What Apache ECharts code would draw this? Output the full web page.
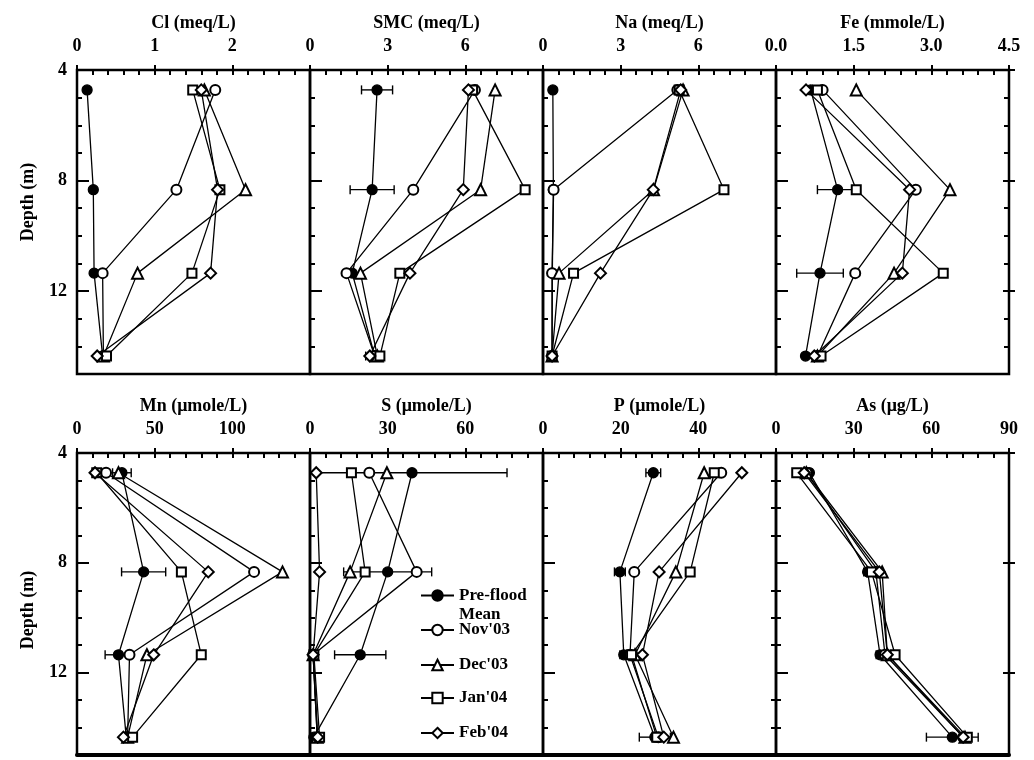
<!DOCTYPE html>
<html><head><meta charset="utf-8">
<script src="https://cdn.jsdelivr.net/npm/echarts@6/dist/echarts.min.js"></script>
<style>html,body{margin:0;padding:0;background:#fff}#c{width:1034px;height:760px}</style>
</head><body><div id="c"></div>
<script>
// ---------- DATA ----------
const depths = [4.72, 8.33, 11.35, 14.35];
const seriesNames = ['Pre-flood Mean', "Nov'03", "Dec'03", "Jan'04", "Feb'04"];
const panelTitles = ['Cl (meq/L)', 'SMC (meq/L)', 'Na (meq/L)', 'Fe (mmole/L)',
                     'Mn (μmole/L)', 'S (μmole/L)', 'P (μmole/L)', 'As (μg/L)'];
const axisMax = [3, 9, 9, 4.5, 150, 90, 60, 90];
const axisInterval = [1, 3, 3, 1.5, 50, 30, 20, 30];
const depthTickLabels = [4, 8, 12];
const depthMinorTicks = [5, 6, 7, 9, 10, 11, 13, 14];

// Cl (meq/L)
const clPre = [0.13, 0.21, 0.22, 0.33];
const clNov = [1.78, 1.28, 0.33, 0.34];
const clDec = [1.64, 2.17, 0.78, 0.34];
const clJan = [1.49, 1.84, 1.48, 0.38];
const clFeb = [1.60, 1.81, 1.72, 0.26];
const clErr = [0, 0, 0, 0];
// SMC (meq/L)
const smcPre = [2.59, 2.40, 1.63, 2.50];
const smcNov = [6.37, 3.99, 1.41, 2.50];
const smcDec = [7.15, 6.59, 1.95, 2.60];
const smcJan = [6.28, 8.31, 3.47, 2.70];
const smcFeb = [6.12, 5.92, 3.86, 2.31];
const smcErr = [0.6, 0.85, 0, 0.35];
// Na (meq/L)
const naPre = [0.38, 0.40, 0.36, 0.35];
const naNov = [5.19, 0.41, 0.35, 0.35];
const naDec = [5.41, 4.27, 0.62, 0.35];
const naJan = [5.26, 6.99, 1.18, 0.35];
const naFeb = [5.32, 4.26, 2.22, 0.35];
const naErr = [0, 0, 0, 0];
// Fe (mmole/L)
const fePre = [0.67, 1.19, 0.85, 0.57];
const feNov = [0.90, 2.70, 1.53, 0.80];
const feDec = [1.55, 3.36, 2.28, 0.80];
const feJan = [0.80, 1.55, 3.23, 0.87];
const feFeb = [0.58, 2.58, 2.44, 0.74];
const feErr = [0, 0.39, 0.45, 0];
// Mn (umole/L)
const mnPre = [28.9, 42.9, 26.7, 31.7];
const mnNov = [18.7, 114, 33.8, 32.6];
const mnDec = [26.7, 132.3, 45, 32.6];
const mnJan = [12.7, 67.2, 80, 35.8];
const mnFeb = [11.6, 84.5, 49.4, 29.9];
const mnErr = [6, 14.2, 8.6, 0];
// S (umole/L)
const sPre = [39.4, 30, 19.4, 1.5];
const sNov = [22.9, 41.2, 1.2, 2.8];
const sDec = [29.7, 15.5, 1.2, 2.8];
const sJan = [16, 21.3, 1.5, 3.7];
const sFeb = [2.4, 3.7, 1.2, 3.0];
const sErr = [36.7, 17, 9.9, 0];
// P (umole/L)
const pPre = [28.4, 19.8, 20.8, 28.8];
const pNov = [45.9, 23.5, 22.4, 29.7];
const pDec = [41.5, 34.2, 23.7, 33.6];
const pJan = [44.1, 37.9, 22.8, 29.3];
const pFeb = [51.2, 29.9, 25.6, 31.1];
const pErr = [1.9, 1.4, 1.0, 4.0];
// As (ug/L)
const asPre = [12.9, 35.4, 40.2, 68.1];
const asNov = [11.8, 38.6, 42.1, 72.3];
const asDec = [11.7, 41, 43, 73];
const asJan = [8, 36.9, 46, 73.9];
const asFeb = [10.9, 39.9, 43, 72.3];
const asErr = [1, 1.5, 1.5, 10];

const panelValues = [
  [clPre, clNov, clDec, clJan, clFeb],
  [smcPre, smcNov, smcDec, smcJan, smcFeb],
  [naPre, naNov, naDec, naJan, naFeb],
  [fePre, feNov, feDec, feJan, feFeb],
  [mnPre, mnNov, mnDec, mnJan, mnFeb],
  [sPre, sNov, sDec, sJan, sFeb],
  [pPre, pNov, pDec, pJan, pFeb],
  [asPre, asNov, asDec, asJan, asFeb]
];
const panelErr = [clErr, smcErr, naErr, feErr, mnErr, sErr, pErr, asErr];

// ---------- LAYOUT / STYLE ----------
const FONT = '"Liberation Serif", "Times New Roman", serif';
const colLeft = [77, 310, 543, 776];
const colWidth = 233;
const rowTop = [70, 453];
const rowHeight = [304, 302];
const symbols = ['circle', 'emptyCircle', 'emptyTriangle', 'emptyRect', 'emptyDiamond'];
const symbolSizes = [10, 10, 11, 9, 11];
const txt = {fontFamily: FONT, fontWeight: 'bold', fontSize: 18, color: '#000'};
const legendTxt = {fontFamily: FONT, fontWeight: 'bold', fontSize: 17, color: '#000'};
const tickLine = {color: '#000', width: 2};

const grid = [], xAxis = [], yAxis = [], series = [];

panelTitles.forEach((title, g) => {
  const row = g < 4 ? 0 : 1, col = g % 4;
  grid.push({left: colLeft[col], width: colWidth, top: rowTop[row], height: rowHeight[row],
             show: true, borderColor: '#000', borderWidth: 2.5, backgroundColor: 'transparent'});
  const fmt = g === 3 ? (v => v.toFixed(1)) : (v => String(v));
  const xi = xAxis.length;
  xAxis.push({
    type: 'value', gridIndex: g, position: 'top', min: 0, max: axisMax[g], interval: axisInterval[g],
    name: title, nameLocation: 'middle', nameGap: 38, nameTextStyle: txt,
    axisLine: {show: false},
    axisTick: {show: true, inside: true, length: 5, lineStyle: tickLine},
    minorTick: {show: true, splitNumber: 5, length: 5, lineStyle: tickLine},
    splitLine: {show: false}, minorSplitLine: {show: false},
    axisLabel: Object.assign({show: true, margin: 15, showMaxLabel: col === 3, showMinLabel: true, formatter: fmt}, txt)
  });
  xAxis.push({
    type: 'value', gridIndex: g, position: 'top', offset: 5, min: 0, max: axisMax[g], interval: axisInterval[g],
    axisLine: {show: false}, axisTick: {show: true, inside: true, length: 10, lineStyle: tickLine},
    axisLabel: {show: false}, splitLine: {show: false}
  });
  if (row === 1) {
    xAxis.push({
      type: 'value', gridIndex: g, position: 'bottom', min: 0, max: axisMax[g],
      axisLine: {show: true, lineStyle: {color: '#000', width: 4}}, axisTick: {show: false},
      axisLabel: {show: false}, splitLine: {show: false}
    });
  }
  const yi = yAxis.length;
  const sides = col === 3 ? ['left', 'right'] : ['left'];
  sides.forEach(side => {
    yAxis.push({
      type: 'value', gridIndex: g, position: side, inverse: true, min: 4, max: 15, interval: 1,
      name: (col === 0 && side === 'left') ? 'Depth (m)' : '', nameLocation: 'middle', nameGap: 40,
      nameTextStyle: Object.assign({padding: row === 0 ? [0, 0, 0, 40] : [0, 12, 0, 0]}, txt),
      axisLine: {show: false},
      axisTick: {show: true, inside: true, length: 5, customValues: depthMinorTicks, lineStyle: tickLine},
      axisLabel: Object.assign({show: col === 0 && side === 'left', margin: 10, customValues: depthTickLabels}, txt),
      splitLine: {show: false}
    });
    yAxis.push({
      type: 'value', gridIndex: g, position: side, offset: 6, inverse: true, min: 4, max: 15, interval: 1,
      axisLine: {show: false},
      axisTick: {show: true, inside: true, length: 12, customValues: depthTickLabels, lineStyle: tickLine},
      axisLabel: {show: false}, splitLine: {show: false}
    });
  });

  // error bars (pre-flood mean)
  const errData = [];
  panelErr[g].forEach((e, k) => {
    if (e > 0) {
      const m = panelValues[g][0][k];
      errData.push([m - e, m + e, depths[k]]);
    }
  });
  series.push({
    type: 'custom', xAxisIndex: xi, yAxisIndex: yi, silent: true, z: 1,
    encode: {x: [0, 1], y: 2},
    data: errData,
    renderItem: (params, api) => {
      const lo = api.coord([api.value(0), api.value(2)]);
      const hi = api.coord([api.value(1), api.value(2)]);
      const h = 4.5, st = {stroke: '#000', lineWidth: 1.4};
      return {type: 'group', children: [
        {type: 'line', shape: {x1: lo[0], y1: lo[1], x2: hi[0], y2: hi[1]}, style: st},
        {type: 'line', shape: {x1: lo[0], y1: lo[1] - h, x2: lo[0], y2: lo[1] + h}, style: st},
        {type: 'line', shape: {x1: hi[0], y1: hi[1] - h, x2: hi[0], y2: hi[1] + h}, style: st}
      ]};
    }
  });

  panelValues[g].forEach((vals, s) => {
    series.push({
      type: 'line', name: seriesNames[s], xAxisIndex: xi, yAxisIndex: yi, z: 2 + s,
      data: vals.map((v, k) => [v, depths[k]]),
      symbol: symbols[s], symbolSize: symbolSizes[s], showAllSymbol: true,
      lineStyle: {color: '#000', width: 1.3},
      itemStyle: {color: '#000', borderColor: '#000', borderWidth: 1.3},
      emphasis: {disabled: true}, animation: false
    });
  });
});

const legendTops = [567, 620, 655, 688, 723];
const legend = seriesNames.map((n, i) => ({
  data: [n], orient: 'vertical', left: 420, top: legendTops[i], padding: 0, itemGap: 0,
  itemWidth: 33, itemHeight: 13, selectedMode: false,
  formatter: i === 0 ? '\nPre-flood\nMean' : '{name}',
  textStyle: Object.assign({lineHeight: i === 0 ? 19 : 20}, legendTxt)
}));

const chart = echarts.init(document.getElementById('c'), null, {renderer: 'canvas'});
chart.setOption({
  animation: false, backgroundColor: '#fff',
  grid, xAxis, yAxis, series, legend
});
</script></body></html>
